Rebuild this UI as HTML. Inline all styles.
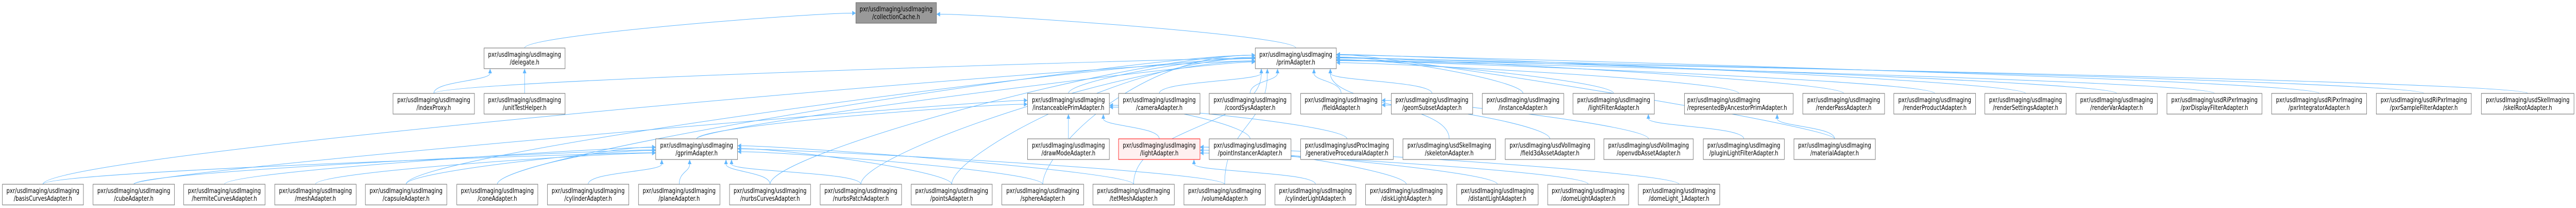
<!DOCTYPE html>
<html><head><meta charset="utf-8">
<style>
html,body{margin:0;padding:0;background:#fff;width:100%;height:100%;overflow:hidden;}
svg{display:block;width:100vw;height:100vh;overflow:hidden;}
text{font-family:"DejaVu Sans","Liberation Sans",sans-serif;font-size:13px;fill:#000;}
</style></head><body>
<svg id="s" viewBox="0 0 6423 403" preserveAspectRatio="none" xmlns="http://www.w3.org/2000/svg">
<g id="edges" fill="none" stroke="#63b8ff" stroke-width="1"></g>
<g id="heads" fill="#63b8ff" stroke="none"></g>
<g id="nodes" text-anchor="middle">
<rect x="2134" y="5" width="201" height="40" fill="#999" stroke="#666"/><text x="2234.5" y="22">pxr/usdImaging/usdImaging</text><text x="2234.5" y="37">/collectionCache.h</text>
<rect x="1207" y="93" width="202" height="40" fill="#fff" stroke="#666"/><text x="1308" y="110">pxr/usdImaging/usdImaging</text><text x="1308" y="125">/delegate.h</text>
<rect x="3130" y="93" width="202" height="40" fill="#fff" stroke="#666"/><text x="3231" y="110">pxr/usdImaging/usdImaging</text><text x="3231" y="125">/primAdapter.h</text>
<rect x="980" y="181" width="203" height="40" fill="#fff" stroke="#666"/><text x="1081.5" y="198">pxr/usdImaging/usdImaging</text><text x="1081.5" y="213">/indexProxy.h</text>
<rect x="1207" y="181" width="202" height="40" fill="#fff" stroke="#666"/><text x="1308" y="198">pxr/usdImaging/usdImaging</text><text x="1308" y="213">/unitTestHelper.h</text>
<rect x="2562" y="181" width="204" height="40" fill="#fff" stroke="#666"/><text x="2664" y="198">pxr/usdImaging/usdImaging</text><text x="2664" y="213">/instanceablePrimAdapter.h</text>
<rect x="2789" y="181" width="203" height="40" fill="#fff" stroke="#666"/><text x="2890.5" y="198">pxr/usdImaging/usdImaging</text><text x="2890.5" y="213">/cameraAdapter.h</text>
<rect x="3015" y="181" width="204" height="40" fill="#fff" stroke="#666"/><text x="3117" y="198">pxr/usdImaging/usdImaging</text><text x="3117" y="213">/coordSysAdapter.h</text>
<rect x="3243" y="181" width="202" height="40" fill="#fff" stroke="#666"/><text x="3344" y="198">pxr/usdImaging/usdImaging</text><text x="3344" y="213">/fieldAdapter.h</text>
<rect x="3469" y="181" width="203" height="40" fill="#fff" stroke="#666"/><text x="3570.5" y="198">pxr/usdImaging/usdImaging</text><text x="3570.5" y="213">/geomSubsetAdapter.h</text>
<rect x="3696" y="181" width="203" height="40" fill="#fff" stroke="#666"/><text x="3797.5" y="198">pxr/usdImaging/usdImaging</text><text x="3797.5" y="213">/instanceAdapter.h</text>
<rect x="3922" y="181" width="203" height="40" fill="#fff" stroke="#666"/><text x="4023.5" y="198">pxr/usdImaging/usdImaging</text><text x="4023.5" y="213">/lightFilterAdapter.h</text>
<rect x="4200" y="181" width="271" height="40" fill="#fff" stroke="#666"/><text x="4207" y="198" text-anchor="start">pxr/usdImaging/usdImaging</text><text x="4207" y="213" text-anchor="start">/representedByAncestorPrimAdapter.h</text>
<rect x="4495" y="181" width="204" height="40" fill="#fff" stroke="#666"/><text x="4597" y="198">pxr/usdImaging/usdImaging</text><text x="4597" y="213">/renderPassAdapter.h</text>
<rect x="4722" y="181" width="204" height="40" fill="#fff" stroke="#666"/><text x="4824" y="198">pxr/usdImaging/usdImaging</text><text x="4824" y="213">/renderProductAdapter.h</text>
<rect x="4949" y="181" width="203" height="40" fill="#fff" stroke="#666"/><text x="5050.5" y="198">pxr/usdImaging/usdImaging</text><text x="5050.5" y="213">/renderSettingsAdapter.h</text>
<rect x="5176" y="181" width="203" height="40" fill="#fff" stroke="#666"/><text x="5277.5" y="198">pxr/usdImaging/usdImaging</text><text x="5277.5" y="213">/renderVarAdapter.h</text>
<rect x="5403" y="181" width="237" height="40" fill="#fff" stroke="#666"/><text x="5521.5" y="198">pxr/usdImaging/usdRiPxrImaging</text><text x="5521.5" y="213">/pxrDisplayFilterAdapter.h</text>
<rect x="5664" y="181" width="237" height="40" fill="#fff" stroke="#666"/><text x="5782.5" y="198">pxr/usdImaging/usdRiPxrImaging</text><text x="5782.5" y="213">/pxrIntegratorAdapter.h</text>
<rect x="5925" y="181" width="237" height="40" fill="#fff" stroke="#666"/><text x="6043.5" y="198">pxr/usdImaging/usdRiPxrImaging</text><text x="6043.5" y="213">/pxrSampleFilterAdapter.h</text>
<rect x="6187" y="181" width="231" height="40" fill="#fff" stroke="#666"/><text x="6302.5" y="198">pxr/usdImaging/usdSkelImaging</text><text x="6302.5" y="213">/skelRootAdapter.h</text>
<rect x="1635" y="269" width="204" height="40" fill="#fff" stroke="#666"/><text x="1737" y="286">pxr/usdImaging/usdImaging</text><text x="1737" y="301">/gprimAdapter.h</text>
<rect x="2562" y="269" width="204" height="40" fill="#fff" stroke="#666"/><text x="2664" y="286">pxr/usdImaging/usdImaging</text><text x="2664" y="301">/drawModeAdapter.h</text>
<rect x="2789" y="269" width="203" height="40" fill="#fff0f0" stroke="#f00"/><text x="2890.5" y="286">pxr/usdImaging/usdImaging</text><text x="2890.5" y="301">/lightAdapter.h</text>
<rect x="3015" y="269" width="204" height="40" fill="#fff" stroke="#666"/><text x="3117" y="286">pxr/usdImaging/usdImaging</text><text x="3117" y="301">/pointInstancerAdapter.h</text>
<rect x="3243" y="269" width="231" height="40" fill="#fff" stroke="#666"/><text x="3358.5" y="286">pxr/usdImaging/usdProcImaging</text><text x="3358.5" y="301">/generativeProceduralAdapter.h</text>
<rect x="3498" y="269" width="231" height="40" fill="#fff" stroke="#666"/><text x="3613.5" y="286">pxr/usdImaging/usdSkelImaging</text><text x="3613.5" y="301">/skeletonAdapter.h</text>
<rect x="3753" y="269" width="223" height="40" fill="#fff" stroke="#666"/><text x="3864.5" y="286">pxr/usdImaging/usdVolImaging</text><text x="3864.5" y="301">/field3dAssetAdapter.h</text>
<rect x="3999" y="269" width="223" height="40" fill="#fff" stroke="#666"/><text x="4110.5" y="286">pxr/usdImaging/usdVolImaging</text><text x="4110.5" y="301">/openvdbAssetAdapter.h</text>
<rect x="4247" y="269" width="202" height="40" fill="#fff" stroke="#666"/><text x="4348" y="286">pxr/usdImaging/usdImaging</text><text x="4348" y="301">/pluginLightFilterAdapter.h</text>
<rect x="4473" y="269" width="203" height="40" fill="#fff" stroke="#666"/><text x="4574.5" y="286">pxr/usdImaging/usdImaging</text><text x="4574.5" y="301">/materialAdapter.h</text>
<rect x="6" y="357" width="202" height="40" fill="#fff" stroke="#666"/><text x="107" y="374">pxr/usdImaging/usdImaging</text><text x="107" y="389">/basisCurvesAdapter.h</text>
<rect x="232" y="357" width="203" height="40" fill="#fff" stroke="#666"/><text x="333.5" y="374">pxr/usdImaging/usdImaging</text><text x="333.5" y="389">/cubeAdapter.h</text>
<rect x="458" y="357" width="203" height="40" fill="#fff" stroke="#666"/><text x="559.5" y="374">pxr/usdImaging/usdImaging</text><text x="559.5" y="389">/hermiteCurvesAdapter.h</text>
<rect x="685" y="357" width="203" height="40" fill="#fff" stroke="#666"/><text x="786.5" y="374">pxr/usdImaging/usdImaging</text><text x="786.5" y="389">/meshAdapter.h</text>
<rect x="911" y="357" width="203" height="40" fill="#fff" stroke="#666"/><text x="1012.5" y="374">pxr/usdImaging/usdImaging</text><text x="1012.5" y="389">/capsuleAdapter.h</text>
<rect x="1139" y="357" width="202" height="40" fill="#fff" stroke="#666"/><text x="1240" y="374">pxr/usdImaging/usdImaging</text><text x="1240" y="389">/coneAdapter.h</text>
<rect x="1365" y="357" width="203" height="40" fill="#fff" stroke="#666"/><text x="1466.5" y="374">pxr/usdImaging/usdImaging</text><text x="1466.5" y="389">/cylinderAdapter.h</text>
<rect x="1592" y="357" width="203" height="40" fill="#fff" stroke="#666"/><text x="1693.5" y="374">pxr/usdImaging/usdImaging</text><text x="1693.5" y="389">/planeAdapter.h</text>
<rect x="1819" y="357" width="202" height="40" fill="#fff" stroke="#666"/><text x="1920" y="374">pxr/usdImaging/usdImaging</text><text x="1920" y="389">/nurbsCurvesAdapter.h</text>
<rect x="2045" y="357" width="203" height="40" fill="#fff" stroke="#666"/><text x="2146.5" y="374">pxr/usdImaging/usdImaging</text><text x="2146.5" y="389">/nurbsPatchAdapter.h</text>
<rect x="2272" y="357" width="202" height="40" fill="#fff" stroke="#666"/><text x="2373" y="374">pxr/usdImaging/usdImaging</text><text x="2373" y="389">/pointsAdapter.h</text>
<rect x="2498" y="357" width="204" height="40" fill="#fff" stroke="#666"/><text x="2600" y="374">pxr/usdImaging/usdImaging</text><text x="2600" y="389">/sphereAdapter.h</text>
<rect x="2725" y="357" width="203" height="40" fill="#fff" stroke="#666"/><text x="2826.5" y="374">pxr/usdImaging/usdImaging</text><text x="2826.5" y="389">/tetMeshAdapter.h</text>
<rect x="2952" y="357" width="203" height="40" fill="#fff" stroke="#666"/><text x="3053.5" y="374">pxr/usdImaging/usdImaging</text><text x="3053.5" y="389">/volumeAdapter.h</text>
<rect x="3179" y="357" width="202" height="40" fill="#fff" stroke="#666"/><text x="3280" y="374">pxr/usdImaging/usdImaging</text><text x="3280" y="389">/cylinderLightAdapter.h</text>
<rect x="3405" y="357" width="203" height="40" fill="#fff" stroke="#666"/><text x="3506.5" y="374">pxr/usdImaging/usdImaging</text><text x="3506.5" y="389">/diskLightAdapter.h</text>
<rect x="3632" y="357" width="203" height="40" fill="#fff" stroke="#666"/><text x="3733.5" y="374">pxr/usdImaging/usdImaging</text><text x="3733.5" y="389">/distantLightAdapter.h</text>
<rect x="3859" y="357" width="202" height="40" fill="#fff" stroke="#666"/><text x="3960" y="374">pxr/usdImaging/usdImaging</text><text x="3960" y="389">/domeLightAdapter.h</text>
<rect x="4085" y="357" width="203" height="40" fill="#fff" stroke="#666"/><text x="4186.5" y="374">pxr/usdImaging/usdImaging</text><text x="4186.5" y="389">/domeLight_1Adapter.h</text>
</g>
</svg>
<script>
(function(){
var N={cc:[2134,5,201],del:[1207,93,202],prim:[3130,93,202],idx:[980,181,203],utest:[1207,181,202],inst:[2562,181,204],cam:[2789,181,203],coord:[3015,181,204],field:[3243,181,202],geom:[3469,181,203],instA:[3696,181,203],lf:[3922,181,203],rep:[4200,181,271],rp:[4495,181,204],rpr:[4722,181,204],rs:[4949,181,203],rv:[5176,181,203],pdf:[5403,181,237],pint:[5664,181,237],psf:[5925,181,237],skr:[6187,181,231],gprim:[1635,269,204],dm:[2562,269,204],light:[2789,269,203],pi:[3015,269,204],gen:[3243,269,231],skel:[3498,269,231],f3d:[3753,269,223],vdb:[3999,269,223],plf:[4247,269,202],mat:[4473,269,203],basis:[6,357,202],cube:[232,357,203],herm:[458,357,203],mesh:[685,357,203],caps:[911,357,203],cone:[1139,357,202],cyl:[1365,357,203],plane:[1592,357,203],nc:[1819,357,202],np:[2045,357,203],pts:[2272,357,202],sph:[2498,357,204],tet:[2725,357,203],vol:[2952,357,203],cyll:[3179,357,202],disk:[3405,357,203],dist:[3632,357,203],dome:[3859,357,202],dome1:[4085,357,203]};
var E=[['del','cc'],['prim','cc'],['idx','del'],['utest','del'],
['inst','prim'],['cam','prim'],['coord','prim'],['field','prim'],['geom','prim'],['instA','prim'],['lf','prim'],['rep','prim'],['rp','prim'],['rpr','prim'],['rs','prim'],['rv','prim'],['pdf','prim'],['pint','prim'],['psf','prim'],['skr','prim'],['gprim','prim'],['idx','prim'],['skel','prim'],['mat','prim'],
['dm','inst'],['light','inst'],['pi','inst'],['gen','inst'],['gprim','inst'],
['f3d','field'],['vdb','field'],['plf','lf'],['mat','rep'],
['basis','gprim'],['cube','gprim'],['herm','gprim'],['mesh','gprim'],['caps','gprim'],['cone','gprim'],['cyl','gprim'],['plane','gprim'],['nc','gprim'],['np','gprim'],['pts','gprim'],['sph','gprim'],['tet','gprim'],['vol','gprim'],
['basis','prim'],['cube','inst'],['caps','prim'],['cone','prim'],['nc','prim'],['pts','prim'],['sph','prim'],['tet','prim'],['vol','prim'],['np','prim'],
['cyll','light'],['disk','light'],['dist','light'],['dome','light'],['dome1','light']];
function cl(v){return Math.max(2,Math.min(6420,v));}
var ns='http://www.w3.org/2000/svg',g=document.getElementById('edges'),hd=document.getElementById('heads');
E.forEach(function(e){var c=N[e[0]],p=N[e[1]];
var cx=c[0]+c[2]/2,cy=c[1],pcx=p[0]+p[2]/2,d=cx-pcx,ex,ey,c1x,c1y,c2x,c2y,ux,uy;
if(Math.abs(d)>450){
 var left=d<0; ex=left?p[0]:p[0]+p[2]; ey=p[1]+20+(Math.abs(d)%17)-8;
 var k=(c[1]-p[1]<=176)?120:300;
 c1x=cx;c1y=cy-(k==120?25:60);c2x=cl(ex+(left?-k:k));c2y=ey;
 ux=left?1:-1;uy=0;
}else{
 ex=pcx+Math.max(-p[2]/2+15,Math.min(p[2]/2-15,d*0.4)); ey=p[1]+40;
 var my=(cy+ey)/2; c1x=cx;c1y=my;c2x=ex;c2y=my; ux=0;uy=1;
}
var pth=document.createElementNS(ns,'path');
var sx=ex-ux*9,sy=ey+uy*9;
pth.setAttribute('d','M'+cx+','+cy+' C'+c1x+','+c1y+' '+c2x+','+c2y+' '+sx+','+sy);
g.appendChild(pth);
var px=-uy,py=ux;
var pol=document.createElementNS(ns,'polygon');
pol.setAttribute('points',ex+','+ey+' '+(sx+px*4.5)+','+(sy+py*4.5)+' '+(sx-px*4.5)+','+(sy-py*4.5));
hd.appendChild(pol);
});
})();
</script>
</body></html>
